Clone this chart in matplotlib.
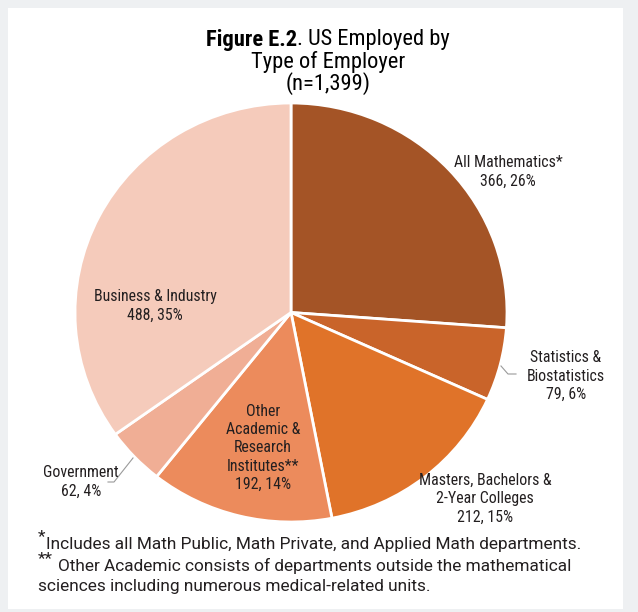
import matplotlib
matplotlib.use('Agg')
import matplotlib.pyplot as plt
from matplotlib.patches import Rectangle
import matplotlib.font_manager as fm

# data
categories = ['All Mathematics*', 'Statistics &\nBiostatistics',
              'Masters, Bachelors &\n2-Year Colleges',
              'Other\nAcademic &\nResearch\nInstitutes**',
              'Government', 'Business & Industry']
counts = [366, 79, 212, 192, 62, 488]
percents = [26, 6, 15, 14, 4, 35]
colors = ['#a45426', '#c9642a', '#e07329', '#ec8b5c', '#f0ae95', '#f5cbbb']

names = set(f.name for f in fm.fontManager.ttflist)
narrow = 'Roboto Condensed' if 'Roboto Condensed' in names else 'DejaVu Sans'
plain = 'Roboto' if 'Roboto' in names else 'DejaVu Sans'

W, H = 638, 612
cx, cy = 291, 312.5      # pie centre in pixels
Rx, Ry = 216, 209.5      # pie radius in pixels (source is slightly squashed)

fig = plt.figure(figsize=(W / 100, H / 100), dpi=100)
fig.patch.set_facecolor('#eef0f2')
fig.patches.append(Rectangle((8 / W, 3 / H), 615 / W, 601 / H,
                             transform=fig.transFigure, facecolor='white',
                             edgecolor='none', zorder=-5))

ax = fig.add_axes([0, 0, 1, 1])
ax.set_facecolor('none')
ax.pie(counts, colors=colors, startangle=90, counterclock=False,
       wedgeprops=dict(edgecolor='white', linewidth=2))
ax.set_xlim(-cx / Rx, (W - cx) / Rx)
ax.set_ylim(-(H - cy) / Ry, cy / Ry)
ax.set_aspect('auto')
ax.axis('off')


def px2u(px, py):
    return (px - cx) / Rx, (cy - py) / Ry


# label positions (pixels) for each slice
label_pos = [(508, 172), (566, 376), (485, 499), (263, 448), (81, 482), (155, 306)]
for cat, n, p, (px, py) in zip(categories, counts, percents, label_pos):
    ax.text(*px2u(px, py), f'{cat}\n{n}, {p}%',
            ha='center', va='center', fontsize=11.4, family=narrow,
            color='#231f20', linespacing=1.28)

# leader lines
for pts in [[(501, 366), (508, 374), (516, 374)],
            [(133, 458), (114, 482), (108, 482)]]:
    uv = [px2u(*q) for q in pts]
    ax.plot([q[0] for q in uv], [q[1] for q in uv], color='#9a9a9a', lw=0.8)

# title
tsize = 16.2
t1 = fig.text(0, 1 - 40 / H, 'Figure E.2', ha='left', va='center',
              fontsize=tsize, family=narrow, weight='bold')
t2 = fig.text(0, 1 - 40 / H, '. US Employed by', ha='left', va='center',
              fontsize=tsize, family=narrow)
fig.canvas.draw()
w1 = t1.get_window_extent().width
w2 = t2.get_window_extent().width
x0 = 328 - (w1 + w2) / 2
t1.set_x(x0 / W)
t2.set_x((x0 + w1) / W)
fig.text(328 / W, 1 - 62 / H, 'Type of Employer', ha='center', va='center',
         fontsize=tsize, family=narrow)
fig.text(328 / W, 1 - 84 / H, '(n=1,399)', ha='center', va='center',
         fontsize=tsize, family=narrow)

# footnotes
fn = dict(fontsize=12.4, family=plain, color='#231f20', va='center')
fig.text(38 / W, 1 - 537 / H, '*', **fn)
fig.text(46 / W, 1 - 545 / H, 'Includes all Math Public, Math Private, and Applied Math departments.', **fn)
fig.text(38 / W, 1 - 559 / H, '**', **fn)
fig.text(58 / W, 1 - 566 / H, 'Other Academic consists of departments outside the mathematical', **fn)
fig.text(38 / W, 1 - 587 / H, 'sciences including numerous medical-related units.', **fn)

fig.savefig('out.png', dpi=100, facecolor=fig.get_facecolor())
